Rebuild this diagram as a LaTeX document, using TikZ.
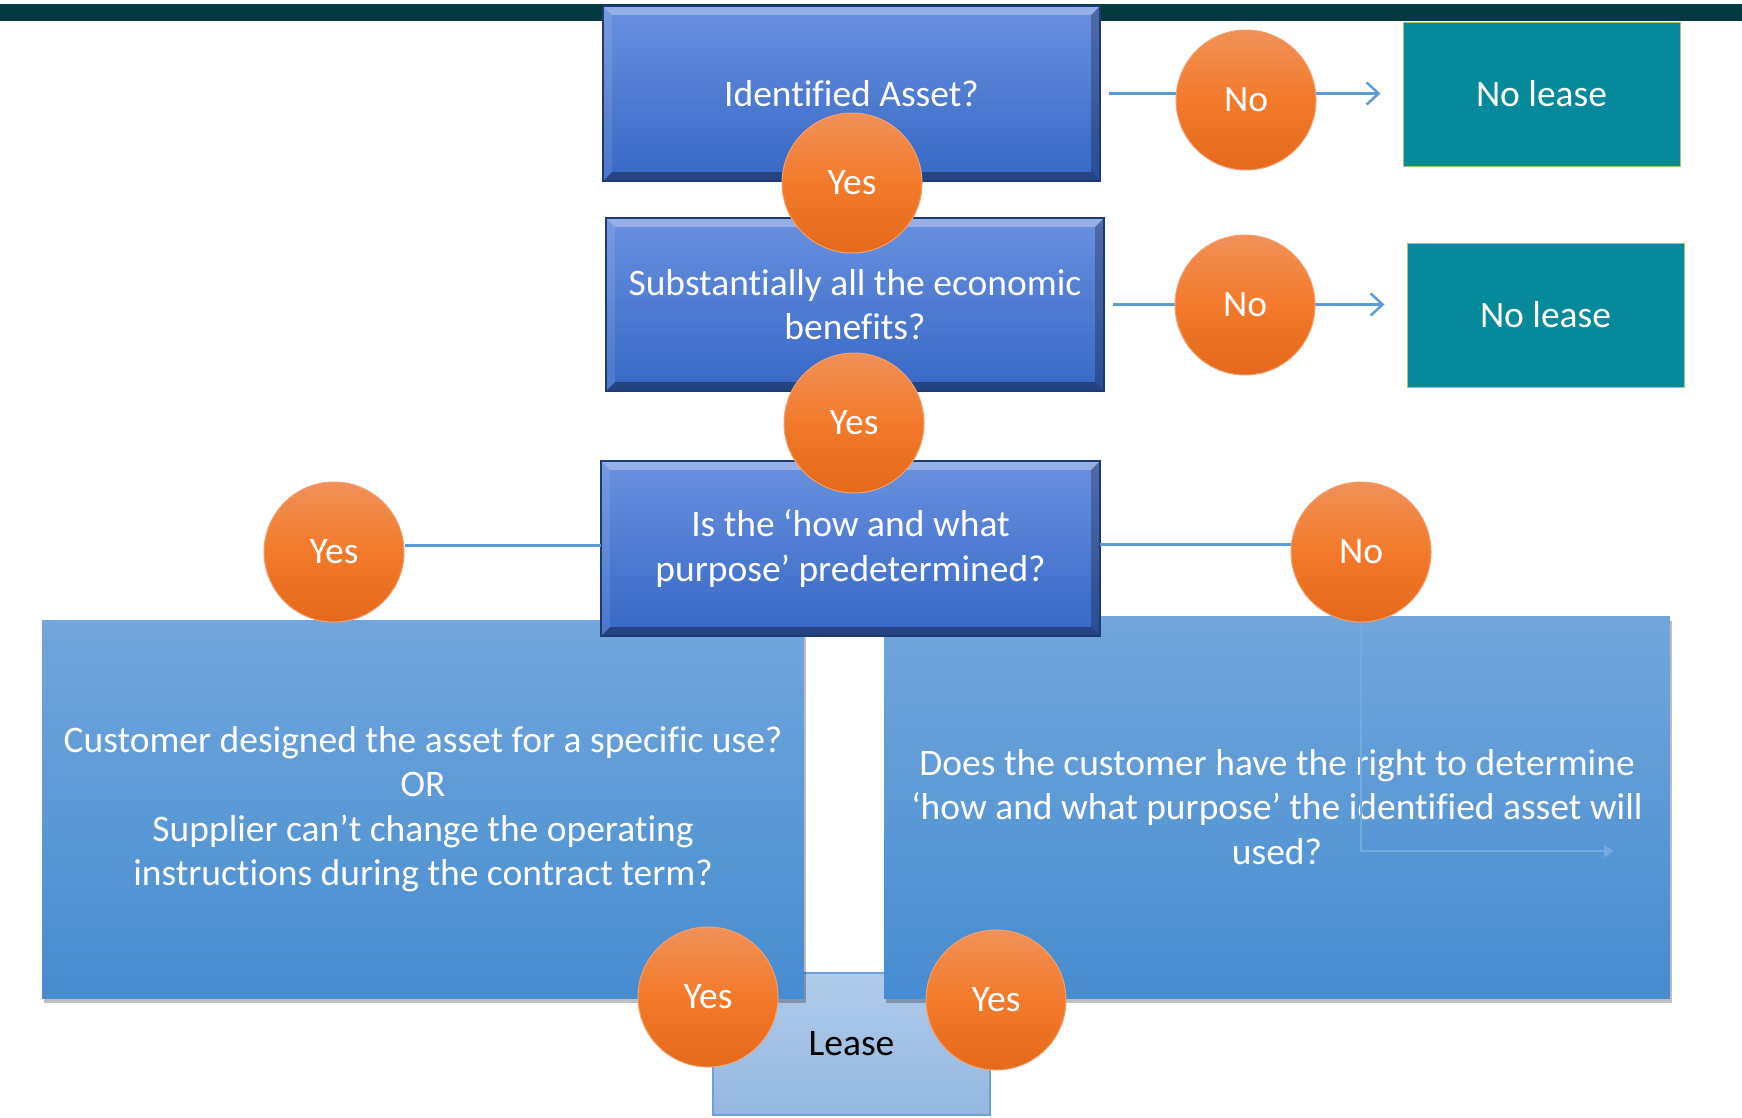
\documentclass[tikz,border=0pt]{standalone}
\usepackage{fontspec}
\setmainfont[Ligatures={NoCommon}]{Carlito}
\usetikzlibrary{arrows.meta,shadows,backgrounds}
\definecolor{barcol}{HTML}{033A40}
\definecolor{qtop}{HTML}{6890DE}
\definecolor{qbot}{HTML}{3768C6}
\definecolor{qedge}{HTML}{1E3A75}
\definecolor{bigtop}{HTML}{72A6DC}
\definecolor{bigbot}{HTML}{468CD0}
\definecolor{tealc}{HTML}{06899B}
\definecolor{tealedge}{HTML}{A9C86A}
\definecolor{otop}{HTML}{F09058}
\definecolor{omid}{HTML}{F37A2A}
\definecolor{obot}{HTML}{E4691B}
\definecolor{oedge}{HTML}{F3A070}
\definecolor{ltop}{HTML}{AFCBE9}
\definecolor{lbot}{HTML}{95B7E2}
\definecolor{ledge}{HTML}{6CA0DA}
\definecolor{conncol}{HTML}{5B9BD5}
\definecolor{faintcol}{HTML}{74ACE0}
\newcommand{\bevelbox}[1]{%
  \fill[white,opacity=0.30] (#1.north west) -- (#1.north east) -- ([xshift=-9pt,yshift=-9pt]#1.north east) -- ([xshift=9pt,yshift=-9pt]#1.north west) -- cycle;
  \fill[black,opacity=0.35] (#1.south west) -- (#1.south east) -- ([xshift=-9pt,yshift=9pt]#1.south east) -- ([xshift=9pt,yshift=9pt]#1.south west) -- cycle;
  \fill[white,opacity=0.10] (#1.north west) -- ([xshift=9pt,yshift=-9pt]#1.north west) -- ([xshift=9pt,yshift=9pt]#1.south west) -- (#1.south west) -- cycle;
  \fill[black,opacity=0.25] (#1.north east) -- ([xshift=-9pt,yshift=-9pt]#1.north east) -- ([xshift=-9pt,yshift=9pt]#1.south east) -- (#1.south east) -- cycle;
  \draw[qedge,line width=1.5pt] (#1.north west) rectangle (#1.south east);}
\tikzset{
  bigfont/.style={font=\fontsize{37.5}{44.5}\selectfont},
  qbox/.style={rectangle,inner sep=0pt,align=center,text=white,bigfont,
    top color=qtop,bottom color=qbot,draw=none},
  bigbox/.style={rectangle,inner sep=0pt,align=center,text=white,bigfont,
    top color=bigtop,bottom color=bigbot,draw=none,
    drop shadow={shadow xshift=2pt,shadow yshift=-5pt,opacity=0.25,fill=black}},
  tealbox/.style={rectangle,inner sep=0pt,align=center,text=white,bigfont,
    fill=tealc,draw=tealedge,line width=1pt,minimum width=277pt,minimum height=144pt},
  leasebox/.style={rectangle,inner sep=0pt,align=center,text=black,bigfont,
    top color=ltop,bottom color=lbot,draw=ledge,line width=1.5pt},
  circ/.style={circle,inner sep=0pt,minimum size=140pt,text=white,bigfont,
    top color=otop,bottom color=obot,middle color=omid,draw=oedge,line width=1pt},
  conn/.style={draw=conncol,line width=2.5pt},
  arrowconn/.style={conn,-{Straight Barb[length=12pt,width=22pt,line width=2.5pt]}},
  faintconn/.style={draw=faintcol,line width=2pt,-{Triangle[length=10pt,width=12pt]}}
}
\begin{document}
\begin{tikzpicture}[x=1pt,y=-1pt]
\useasboundingbox (0,0) rectangle (1742,1117);
% top bar
\fill[barcol] (0,4) rectangle (1742,21);
% lease box (behind big boxes)
\node[leasebox,minimum width=277pt,minimum height=142pt] (lease) at (851.5,1044) {Lease};
% big boxes
\node[bigbox,minimum width=762pt,minimum height=378pt] (bigL) at (423,809)
  {Customer designed the asset for a specific use?\\OR\\Supplier can’t change the operating\\instructions during the contract term?};
\node[bigbox,minimum width=786pt,minimum height=382pt] (bigR) at (1277,807)
  {Does the customer have the right to determine\\‘how and what purpose’ the identified asset will\\used?};
% question boxes
\node[qbox,minimum width=497pt,minimum height=175pt] (q1) at (851.5,93.5) {Identified Asset?};
\bevelbox{q1}
\node[qbox,minimum width=498pt,minimum height=173pt] (q2) at (855,304.5) {Substantially all the economic\\benefits?};
\bevelbox{q2}
\node[qbox,minimum width=499pt,minimum height=175pt] (q3) at (850.5,548.5) {Is the ‘how and what\\purpose’ predetermined?};
\bevelbox{q3}
% no lease boxes
\node[tealbox] (nl1) at (1541.5,94) {No lease};
\node[tealbox] (nl2) at (1545.5,315) {No lease};
% connectors
\draw[arrowconn,shorten <=9pt,shorten >=22pt] (q1.east) -- (q1.east -| nl1.west);
\draw[arrowconn,shorten <=9pt,shorten >=22pt] (q2.east) -- (q2.east -| nl2.west);
% circles
\node[circ] (no1) at (1246,100) {No};
\node[circ] (no2) at (1245,305) {No};
\node[circ] (yesL) at (334,552) {Yes};
\node[circ] (no3) at (1361,552) {No};
\draw[conn] ([yshift=3pt]q3.west) -- ([yshift=3pt]q3.west -| yesL.east);
\draw[conn] ([yshift=4pt]q3.east) -- ([yshift=4pt]q3.east -| no3.west);
\coordinate (fend) at (1614,851);
\draw[faintconn] (no3.south) |- (fend);
\node[circ] (yes1) at (852,183) {Yes};
\node[circ] (yes2) at (854,423) {Yes};
\node[circ] (yesB1) at (708,997) {Yes};
\node[circ] (yesB2) at (996,1000) {Yes};
\end{tikzpicture}
\end{document}
